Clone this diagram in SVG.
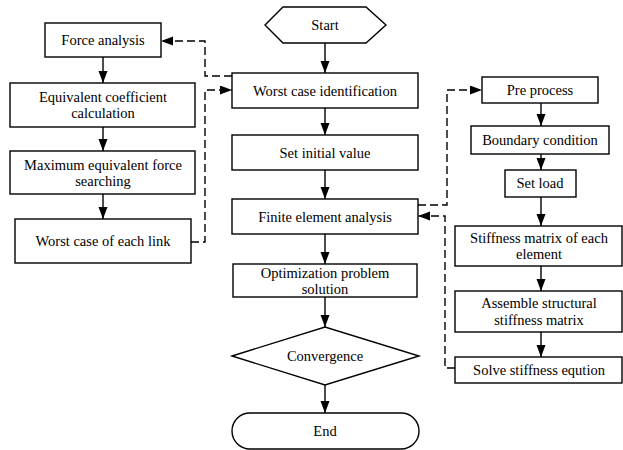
<svg xmlns="http://www.w3.org/2000/svg" width="623" height="450" viewBox="0 0 623 450">
<style>
.box{fill:#fff;stroke:#000;stroke-width:1.4}
text{font-family:'Liberation Serif','DejaVu Serif','Times New Roman',serif;font-size:14.5px;fill:#000;text-anchor:middle}
.ln{fill:none;stroke:#000;stroke-width:1.4}
.d{fill:none;stroke:#000;stroke-width:1.4;stroke-dasharray:8,4}
</style>
<defs>
<marker id="ah" markerUnits="userSpaceOnUse" markerWidth="13" markerHeight="10" refX="12" refY="4.5" orient="auto">
<path d="M0,0 L12,4.5 L0,9 z" fill="#000"/>
</marker>
</defs>
<rect width="623" height="450" fill="#fff"/>
<g id="connectors">
<line class="ln" x1="325" y1="43" x2="325" y2="73" marker-end="url(#ah)"/>
<line class="ln" x1="325" y1="108" x2="325" y2="135" marker-end="url(#ah)"/>
<line class="ln" x1="325" y1="170" x2="325" y2="199" marker-end="url(#ah)"/>
<line class="ln" x1="325" y1="234" x2="325" y2="264" marker-end="url(#ah)"/>
<line class="ln" x1="325" y1="297" x2="325" y2="327" marker-end="url(#ah)"/>
<line class="ln" x1="325" y1="385" x2="325" y2="413" marker-end="url(#ah)"/>
<line class="ln" x1="103" y1="57" x2="103" y2="83" marker-end="url(#ah)"/>
<line class="ln" x1="103" y1="127" x2="103" y2="151" marker-end="url(#ah)"/>
<line class="ln" x1="103" y1="194" x2="103" y2="219" marker-end="url(#ah)"/>
<line class="ln" x1="541" y1="103" x2="541" y2="126" marker-end="url(#ah)"/>
<line class="ln" x1="541" y1="154" x2="541" y2="170" marker-end="url(#ah)"/>
<line class="ln" x1="541" y1="197" x2="541" y2="226" marker-end="url(#ah)"/>
<line class="ln" x1="541" y1="266" x2="541" y2="291" marker-end="url(#ah)"/>
<line class="ln" x1="541" y1="332" x2="541" y2="357" marker-end="url(#ah)"/>
<path class="d" d="M232,76 H205 V41 H161" marker-end="url(#ah)"/>
<path class="d" d="M191,242 H205 V90 H232" marker-end="url(#ah)"/>
<path class="d" d="M418,205 H447 V90 H482" marker-end="url(#ah)"/>
<path class="d" d="M455,368 H445 V216 H418" marker-end="url(#ah)"/>
</g>
<g id="start"><polygon class="box" points="265,25 283,7 366,7 386,25 366,43 283,43"/><text x="325" y="30">Start</text></g>
<g id="wci"><rect class="box" x="232" y="73" width="186" height="35"/><text x="325" y="96">Worst case identification</text></g>
<g id="siv"><rect class="box" x="232" y="135" width="186" height="35"/><text x="325" y="158">Set initial value</text></g>
<g id="fea"><rect class="box" x="232" y="199" width="186" height="35"/><text x="325" y="222">Finite element analysis</text></g>
<g id="ops"><rect class="box" x="233" y="264" width="184" height="33"/><text x="325" y="278">Optimization problem</text><text x="325" y="294">solution</text></g>
<g id="conv"><polygon class="box" points="232,356 325,327 419,356 325,385"/><text x="325" y="361">Convergence</text></g>
<g id="end"><rect class="box" x="232" y="413" width="187" height="36" rx="18"/><text x="325" y="436">End</text></g>
<g id="force"><rect class="box" x="45" y="23" width="116" height="34"/><text x="103" y="45">Force analysis</text></g>
<g id="eqc"><rect class="box" x="10" y="83" width="185" height="44"/><text x="103" y="102">Equivalent coefficient</text><text x="103" y="118">calculation</text></g>
<g id="mef"><rect class="box" x="10" y="151" width="185" height="43"/><text x="103" y="170">Maximum equivalent force</text><text x="103" y="186">searching</text></g>
<g id="wcl"><rect class="box" x="15" y="219" width="176" height="44"/><text x="103" y="246">Worst case of each link</text></g>
<g id="pre"><rect class="box" x="482" y="77" width="116" height="26"/><text x="540" y="95">Pre process</text></g>
<g id="bc"><rect class="box" x="471" y="126" width="138" height="28"/><text x="540" y="145">Boundary condition</text></g>
<g id="sl"><rect class="box" x="505" y="170" width="71" height="27"/><text x="540" y="188">Set load</text></g>
<g id="sme"><rect class="box" x="455" y="226" width="167" height="40"/><text x="539" y="243">Stiffness matrix of each</text><text x="539" y="259">element</text></g>
<g id="assm"><rect class="box" x="455" y="291" width="167" height="41"/><text x="539" y="308">Assemble structural</text><text x="539" y="325">stiffness matrix</text></g>
<g id="solve"><rect class="box" x="455" y="357" width="167" height="26"/><text x="539" y="375">Solve stiffness eqution</text></g>
</svg>
